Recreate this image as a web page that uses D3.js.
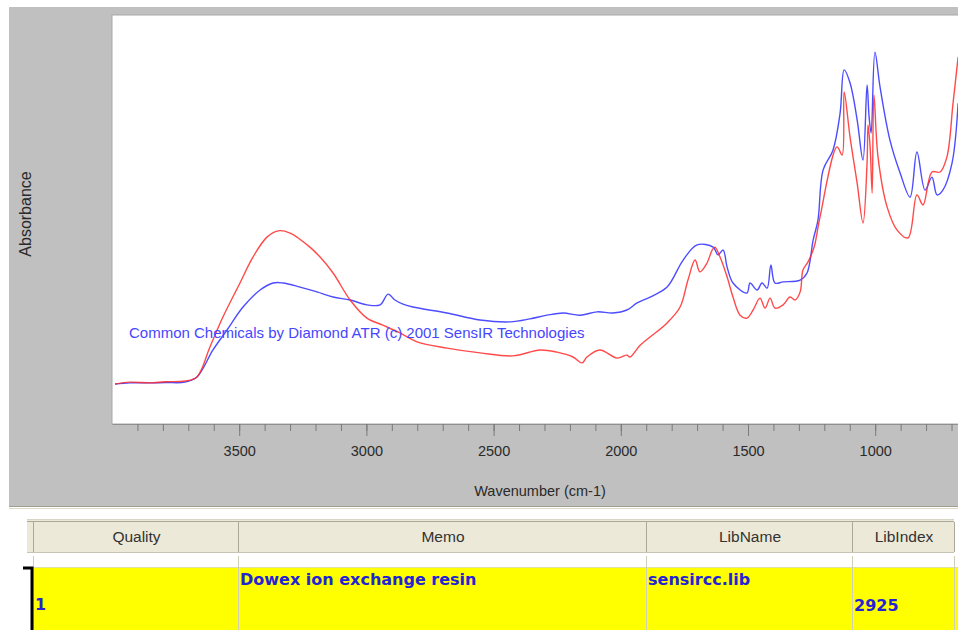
<!DOCTYPE html>
<html>
<head>
<meta charset="utf-8">
<script src="https://cdn.jsdelivr.net/npm/d3@7"></script>
<style>
  body { margin: 0; background: #fff; overflow: hidden; }
  svg { display: block; }
</style>
</head>
<body>
<div id="chart"></div>
<script>
// Spectrum: wavenumber (cm-1) and absorbance (arbitrary units).
const redWavenumber = [3988, 3930, 3851, 3790, 3713, 3666, 3615, 3564, 3497, 3446, 3391, 3347, 3300, 3222, 3182, 3131, 3064, 2998, 2935, 2868, 2801, 2683, 2553, 2424, 2317, 2251, 2188, 2152, 2133, 2082, 2015, 1976, 1964, 1924, 1885, 1818, 1767, 1736, 1708, 1689, 1661, 1641, 1630, 1610, 1582, 1559, 1531, 1504, 1480, 1453, 1433, 1413, 1394, 1362, 1335, 1315, 1295, 1284, 1264, 1244, 1236, 1217, 1150, 1130, 1122, 1099, 1071, 1048, 1032, 1028, 1020, 1012, 1005, 989, 953, 914, 871, 836, 812, 777, 745, 718, 694, 674];
const redAbsorbance = [0.000, 0.005, 0.003, 0.006, 0.008, 0.019, 0.100, 0.181, 0.273, 0.343, 0.397, 0.414, 0.408, 0.370, 0.343, 0.300, 0.227, 0.178, 0.159, 0.138, 0.114, 0.097, 0.084, 0.076, 0.092, 0.086, 0.073, 0.057, 0.073, 0.092, 0.070, 0.078, 0.073, 0.105, 0.127, 0.165, 0.208, 0.281, 0.335, 0.303, 0.327, 0.362, 0.370, 0.343, 0.289, 0.235, 0.186, 0.178, 0.200, 0.232, 0.205, 0.232, 0.205, 0.214, 0.235, 0.227, 0.249, 0.308, 0.330, 0.362, 0.381, 0.451, 0.641, 0.619, 0.789, 0.668, 0.543, 0.435, 0.597, 0.700, 0.641, 0.516, 0.781, 0.614, 0.478, 0.416, 0.395, 0.511, 0.484, 0.573, 0.573, 0.614, 0.759, 0.884];

const blueWavenumber = [3988, 3930, 3851, 3790, 3713, 3666, 3603, 3548, 3485, 3418, 3367, 3328, 3261, 3194, 3131, 3064, 2998, 2946, 2915, 2888, 2856, 2817, 2683, 2553, 2435, 2357, 2290, 2227, 2160, 2093, 2031, 1976, 1936, 1885, 1818, 1755, 1700, 1637, 1618, 1598, 1582, 1559, 1504, 1492, 1464, 1445, 1425, 1410, 1394, 1362, 1295, 1268, 1244, 1225, 1205, 1166, 1138, 1122, 1099, 1071, 1048, 1032, 1024, 1016, 1001, 981, 942, 902, 863, 836, 804, 777, 757, 734, 698, 674];
const blueAbsorbance = [0.000, 0.003, 0.003, 0.004, 0.005, 0.019, 0.092, 0.146, 0.208, 0.254, 0.273, 0.273, 0.262, 0.249, 0.235, 0.227, 0.214, 0.214, 0.243, 0.227, 0.216, 0.208, 0.192, 0.173, 0.168, 0.176, 0.186, 0.192, 0.186, 0.195, 0.192, 0.200, 0.219, 0.235, 0.262, 0.335, 0.376, 0.370, 0.349, 0.362, 0.316, 0.273, 0.246, 0.273, 0.254, 0.273, 0.259, 0.322, 0.273, 0.276, 0.281, 0.300, 0.389, 0.443, 0.578, 0.632, 0.732, 0.849, 0.814, 0.714, 0.605, 0.808, 0.722, 0.678, 0.897, 0.803, 0.659, 0.570, 0.505, 0.627, 0.524, 0.559, 0.511, 0.524, 0.597, 0.759];

const majorTicks = [3500, 3000, 2500, 2000, 1500, 1000];
const minorTicks = d3.range(3900, 600, -100);

const libraryNote = "Common Chemicals by Diamond ATR (c) 2001 SensIR Technologies";

// Results table
const columns = ["", "Quality", "Memo", "LibName", "LibIndex"];
const rowValues = ["", "1", "Dowex ion exchange resin", "sensircc.lib", "2925"];

const width = 958;
const height = 630;

const plot = { left: 112, top: 15, right: 958, bottom: 424 };

const svg = d3.select("#chart")
    .append("svg")
    .attr("width", width)
    .attr("height", height);

// Gray panel behind the chart
svg.append("rect")
    .attr("x", 9).attr("y", 7)
    .attr("width", width - 9).attr("height", 499)
    .attr("fill", "#c0c0c0");
svg.append("line")
    .attr("x1", 9).attr("x2", width).attr("y1", 506.5).attr("y2", 506.5)
    .attr("stroke", "#a19e8c");
svg.append("line")
    .attr("x1", 9).attr("x2", width).attr("y1", 508.5).attr("y2", 508.5)
    .attr("stroke", "#dcd9c8");

// White plotting area
svg.append("rect")
    .attr("x", plot.left).attr("y", plot.top)
    .attr("width", plot.right - plot.left + 2).attr("height", plot.bottom - plot.top)
    .attr("fill", "#fff")
    .attr("stroke", "#a8a8a8");

const x = d3.scaleLinear()
    .domain([4000, 600])
    .range([plot.left, plot.left + 3400 * 0.2544]);

const y = d3.scaleLinear()
    .domain([0, 1])
    .range([384, 14]);

svg.append("clipPath")
    .attr("id", "plot-clip")
    .append("rect")
    .attr("x", plot.left).attr("y", plot.top)
    .attr("width", plot.right - plot.left).attr("height", plot.bottom - plot.top);

// Axes: minor ticks every 100, labelled ticks every 500
const axisG = svg.append("g")
    .attr("transform", `translate(0, ${plot.bottom})`);

axisG.append("g")
    .call(d3.axisBottom(x).tickValues(minorTicks).tickSize(7).tickSizeOuter(0).tickFormat(""))
    .call(g => g.select(".domain").attr("stroke", "#909090"))
    .call(g => g.selectAll(".tick line").attr("stroke", "#7a7a7a"));

axisG.append("g")
    .call(d3.axisBottom(x).tickValues(majorTicks).tickSize(12).tickPadding(10)
        .tickSizeOuter(0).tickFormat(d3.format("d")))
    .call(g => g.select(".domain").remove())
    .call(g => g.selectAll(".tick line").attr("stroke", "#7a7a7a"))
    .call(g => g.selectAll(".tick text")
        .attr("fill", "#2a2a2a")
        .attr("font-family", "Liberation Sans, Arial, sans-serif")
        .attr("font-size", 14.5));

svg.append("text")
    .attr("x", 540)
    .attr("y", 496)
    .attr("text-anchor", "middle")
    .attr("fill", "#2a2a2a")
    .attr("font-family", "Liberation Sans, Arial, sans-serif")
    .attr("font-size", 14.5)
    .text("Wavenumber (cm-1)");

svg.append("text")
    .attr("transform", "translate(31, 214) rotate(-90)")
    .attr("text-anchor", "middle")
    .attr("fill", "#2a2a2a")
    .attr("font-family", "Liberation Sans, Arial, sans-serif")
    .attr("font-size", 16)
    .text("Absorbance");

// Spectra
const line = d3.line()
    .x(d => x(d[0]))
    .y(d => y(d[1]))
    .curve(d3.curveCatmullRom.alpha(0.5));

const lines = svg.append("g").attr("clip-path", "url(#plot-clip)");

lines.append("path")
    .datum(d3.zip(blueWavenumber, blueAbsorbance))
    .attr("fill", "none")
    .attr("stroke", "#3a3aff")
    .attr("stroke-width", 1.4)
    .attr("stroke-opacity", 0.9)
    .attr("stroke-linejoin", "round")
    .attr("d", line);

lines.append("path")
    .datum(d3.zip(redWavenumber, redAbsorbance))
    .attr("fill", "none")
    .attr("stroke", "#ff2a2a")
    .attr("stroke-width", 1.4)
    .attr("stroke-opacity", 0.85)
    .attr("stroke-linejoin", "round")
    .attr("d", line);

svg.append("text")
    .attr("x", 129)
    .attr("y", 338)
    .attr("fill", "#4646ff")
    .attr("font-family", "Liberation Sans, Arial, sans-serif")
    .attr("font-size", 15)
    .text(libraryNote);

// Table
const colEdges = [27, 33, 238, 646, 852, 954];
const header = { top: 519, bottom: 553 };
const row = { top: 567, bottom: 632 };

svg.append("rect")
    .attr("x", colEdges[0]).attr("y", header.top)
    .attr("width", colEdges[5] - colEdges[0]).attr("height", header.bottom - header.top)
    .attr("fill", "#ece9d8");
svg.append("line")
    .attr("x1", colEdges[0]).attr("x2", colEdges[5])
    .attr("y1", header.top + 0.5).attr("y2", header.top + 0.5)
    .attr("stroke", "#d8d4c4");
svg.append("line")
    .attr("x1", colEdges[0]).attr("x2", colEdges[5])
    .attr("y1", header.top + 2.5).attr("y2", header.top + 2.5)
    .attr("stroke", "#aca899");
svg.append("line")
    .attr("x1", colEdges[0]).attr("x2", colEdges[5])
    .attr("y1", header.bottom - 0.5).attr("y2", header.bottom - 0.5)
    .attr("stroke", "#c7c3b2");

svg.append("rect")
    .attr("x", colEdges[1]).attr("y", row.top)
    .attr("width", width - colEdges[1]).attr("height", row.bottom - row.top)
    .attr("fill", "#ffff00");
svg.append("line")
    .attr("x1", colEdges[1]).attr("x2", width)
    .attr("y1", row.top + 0.5).attr("y2", row.top + 0.5)
    .attr("stroke", "#e0e0a0");

colEdges.slice(1).forEach(cx => {
    svg.append("line")
        .attr("x1", cx + 0.5).attr("x2", cx + 0.5)
        .attr("y1", header.top + 3).attr("y2", header.bottom - 1)
        .attr("stroke", "#aca899");
    svg.append("line")
        .attr("x1", cx + 0.5).attr("x2", cx + 0.5)
        .attr("y1", header.bottom + 3).attr("y2", row.bottom)
        .attr("stroke", "#cfcfb8");
});

// Current-row marker
svg.append("path")
    .attr("d", `M23,568H32V${row.bottom}`)
    .attr("fill", "none")
    .attr("stroke", "#000")
    .attr("stroke-width", 3);

columns.forEach((c, i) => {
    if (!c) return;
    svg.append("text")
        .attr("x", (colEdges[i] + colEdges[i + 1]) / 2 + 1)
        .attr("y", 542)
        .attr("text-anchor", "middle")
        .attr("fill", "#333")
        .attr("font-family", "Liberation Sans, Arial, sans-serif")
        .attr("font-size", 15.5)
        .text(c);
});

const rowBaselines = [0, 610, 585, 585, 611];
rowValues.forEach((v, i) => {
    if (!v) return;
    svg.append("text")
        .attr("x", colEdges[i] + 2)
        .attr("y", rowBaselines[i])
        .attr("fill", "#2323d6")
        .attr("font-family", "DejaVu Sans, Verdana, sans-serif")
        .attr("font-weight", "bold")
        .attr("font-size", 16)
        .text(v);
});
</script>
</body>
</html>
